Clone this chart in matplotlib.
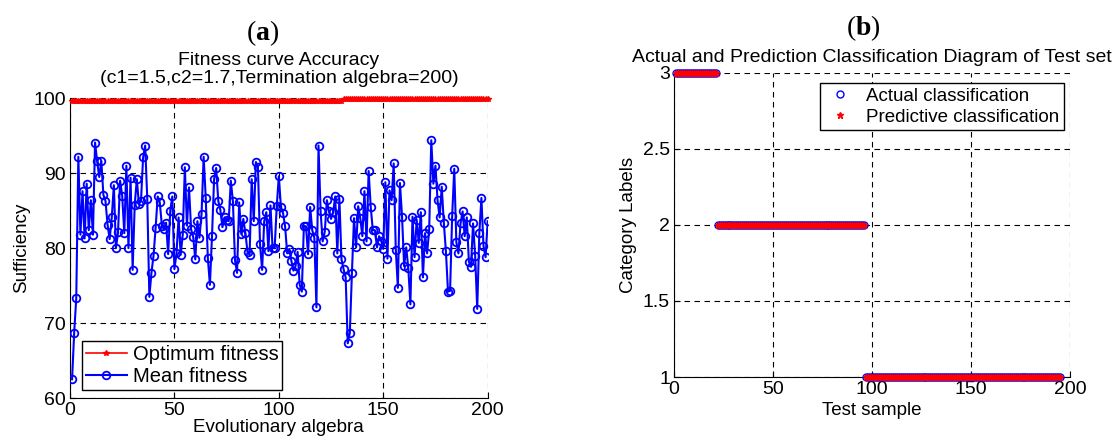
import numpy as np
import matplotlib
matplotlib.use('Agg')
import matplotlib.pyplot as plt

plt.rcParams['font.family'] = ['Liberation Sans', 'DejaVu Sans']
plt.rcParams['mathtext.fontset'] = 'custom'
plt.rcParams['mathtext.rm'] = 'Liberation Serif'
plt.rcParams['mathtext.bf'] = 'Liberation Serif:bold'

# (a) PSO fitness per generation
generations = np.arange(1, 201)
mean_fitness = [
    62.5, 68.7, 73.3, 92.2, 81.8, 87.6, 81.3, 88.6, 82.4, 86.4,
    81.8, 94.1, 91.6, 89.5, 91.6, 87.1, 86.3, 83.1, 81.2, 84.1,
    88.4, 80.0, 82.1, 89.0, 87.0, 82.0, 91.0, 80.0, 89.4, 77.1,
    85.8, 89.2, 85.9, 86.3, 92.1, 93.7, 86.6, 73.5, 76.7, 79.0,
    82.7, 86.9, 86.1, 83.0, 82.5, 83.4, 79.2, 85.0, 86.9, 77.2,
    79.3, 84.1, 79.1, 81.8, 90.8, 83.0, 88.1, 82.5, 81.5, 78.5,
    83.6, 81.4, 84.6, 92.2, 86.7, 78.7, 75.1, 81.6, 89.2, 90.7,
    86.3, 85.1, 82.8, 84.1, 83.8, 83.6, 89.0, 86.3, 78.4, 76.7,
    86.1, 81.9, 83.9, 82.0, 79.5, 79.1, 89.2, 83.6, 91.5, 90.8,
    80.5, 77.1, 83.6, 84.8, 79.6, 85.7, 80.0, 80.0, 85.6, 89.6,
    85.5, 84.7, 82.9, 79.3, 79.9, 78.3, 77.0, 77.6, 79.5, 75.1,
    74.2, 83.0, 82.9, 79.2, 85.5, 82.4, 81.4, 72.1, 93.7, 84.9,
    80.9, 82.2, 86.4, 84.9, 83.9, 84.8, 86.9, 79.3, 86.6, 78.5,
    77.2, 76.1, 67.3, 68.7, 76.7, 84.0, 80.1, 85.6, 84.0, 81.6,
    87.6, 80.9, 90.3, 85.5, 82.4, 82.4, 80.1, 81.6, 81.0, 79.9,
    88.8, 78.6, 87.7, 86.4, 91.3, 79.8, 74.7, 88.7, 84.2, 77.6,
    80.1, 77.3, 72.5, 84.2, 78.8, 83.8, 80.7, 84.8, 76.1, 82.0,
    79.3, 82.5, 94.4, 88.6, 91.0, 86.4, 84.1, 88.2, 83.4, 79.6,
    74.2, 74.3, 84.3, 90.6, 80.8, 79.3, 83.3, 84.9, 81.6, 84.1,
    78.2, 77.5, 83.3, 79.0, 71.9, 82.0, 86.7, 80.3, 78.8, 83.6,
]
best_levels = [99.6, 99.95]
best_counts = [130, 70]
best_fitness = np.repeat(best_levels, best_counts)

# (b) test set classification
class_labels = [3, 2, 1]
class_counts = [21, 75, 99]
actual_class = np.repeat(class_labels, class_counts)
predicted_class = np.repeat(class_labels, class_counts)
test_samples = np.arange(1, len(actual_class) + 1)

fs_label = 13.5
fs_tick = 14
fs_title = 14
fs_leg = 14.5

fig = plt.figure(figsize=(11.18, 4.45), dpi=100)

ax1 = fig.add_axes([0.0626, 0.1056, 0.3736, 0.6735])
ax1.plot(generations, best_fitness, color='red', marker='*', markersize=4,
         linewidth=1.2, label='Optimum fitness', clip_on=False, zorder=4)
ax1.plot(generations, mean_fitness, color='blue', marker='o', markersize=5.5,
         markerfacecolor='none', markeredgewidth=1.3, linewidth=1.5,
         label='Mean fitness', zorder=3)
ax1.set_xlim(0, 200)
ax1.set_ylim(60, 100)
ax1.set_xticks([0, 50, 100, 150, 200])
ax1.set_yticks([60, 70, 80, 90, 100])
ax1.set_xlabel('Evolutionary algebra', fontsize=fs_label, labelpad=0)
ax1.set_ylabel('Sufficiency', fontsize=fs_label, labelpad=2)
ax1.set_title('Fitness curve Accuracy\n(c1=1.5,c2=1.7,Termination algebra=200)',
              fontsize=fs_title, linespacing=1.1, pad=11)
leg1 = ax1.legend(loc='lower left', fontsize=fs_leg, frameon=True, fancybox=False,
                  edgecolor='black', framealpha=1, borderpad=0.2,
                  labelspacing=0.15, handlelength=2.0, handletextpad=0.3,
                  borderaxespad=0.4, bbox_to_anchor=(0.01, 0.0))
leg1.get_frame().set_linewidth(1.0)

ax2 = fig.add_axes([0.6029, 0.1528, 0.3542, 0.6832])
ax2.plot(test_samples, actual_class, linestyle='none', marker='o', markersize=5,
         markerfacecolor='none', markeredgecolor='blue', markeredgewidth=1.0,
         label='Actual classification', clip_on=False, zorder=3)
ax2.plot(test_samples, predicted_class, linestyle='none', marker='*',
         markersize=5, color='red', label='Predictive classification',
         clip_on=False, zorder=4)
ax2.set_xlim(0, 200)
ax2.set_ylim(1, 3)
ax2.set_xticks([0, 50, 100, 150, 200])
ax2.set_yticks([1, 1.5, 2, 2.5, 3])
ax2.set_yticklabels(['1', '1.5', '2', '2.5', '3'])
ax2.set_xlabel('Test sample', fontsize=fs_label, labelpad=3)
ax2.set_ylabel('Category Labels', fontsize=fs_label, labelpad=4)
ax2.set_title('Actual and Prediction Classification Diagram of Test set',
              fontsize=fs_title, pad=8)
leg2 = ax2.legend(loc='upper right', fontsize=13.5, frameon=True, fancybox=False,
                  edgecolor='black', framealpha=1, borderpad=0.25,
                  labelspacing=0.2, handlelength=1.6, handletextpad=0.6,
                  borderaxespad=0.0, bbox_to_anchor=(0.984, 0.967))
leg2.get_frame().set_linewidth(1.0)

for ax in (ax1, ax2):
    ax.grid(True, color='black', linestyle=(0, (5, 4)), linewidth=0.8)
    ax.set_axisbelow(True)
    ax.spines['top'].set_visible(False)
    ax.spines['right'].set_visible(False)
    ax.tick_params(direction='in', length=4, labelsize=fs_tick, pad=3)

fig.text(0.235, 0.926, r'$\mathrm{(}\mathbf{a}\mathrm{)}$', ha='center',
         va='center', fontsize=20)
fig.text(0.772, 0.937, r'$\mathrm{(}\mathbf{b}\mathrm{)}$', ha='center',
         va='center', fontsize=20)

fig.savefig('out.png', dpi=100)
